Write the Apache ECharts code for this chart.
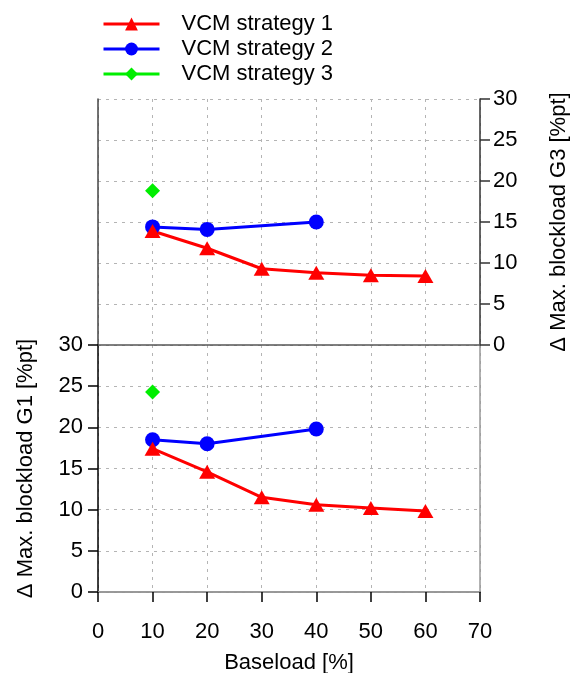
<!DOCTYPE html>
<html>
<head>
<meta charset="utf-8">
<script src="https://cdn.jsdelivr.net/npm/echarts@6/dist/echarts.min.js"></script>
<style>
  html, body { margin: 0; padding: 0; background: #fff; }
  #chart { width: 570px; height: 673px; }
</style>
</head>
<body>
<div id="chart"></div>
<script>
// Baseload levels [%]
const baseload = [10, 20, 30, 40, 50, 60];

// Δ Max. blockload G3 [%pt] (upper panel)
const g3Strategy1 = [13.9, 11.8, 9.3, 8.8, 8.5, 8.4];
const g3Strategy2 = [14.4, 14.1, null, 15.0];
const g3Strategy3 = [18.8];

// Δ Max. blockload G1 [%pt] (lower panel)
const g1Strategy1 = [17.4, 14.6, 11.5, 10.6, 10.2, 9.85];
const g1Strategy2 = [18.5, 18.0, null, 19.8];
const g1Strategy3 = [24.3];

const seriesNames = ['VCM strategy 1', 'VCM strategy 2', 'VCM strategy 3'];
const yTicks = [0, 5, 10, 15, 20, 25, 30];
const xTicks = [0, 10, 20, 30, 40, 50, 60, 70];

const FONT = 'Liberation Sans, Arial, sans-serif';
const FS = 22;

function pairs(values) {
  const out = [];
  values.forEach((v, i) => { if (v !== null && v !== undefined) out.push([baseload[i], v]); });
  return out;
}

const gridDash = { show: true, lineStyle: { color: '#b4b4b4', type: [3, 5], width: 1 } };

const xBase = {
  type: 'value', min: xTicks[0], max: xTicks[xTicks.length - 1], interval: 10
};
const yBase = {
  type: 'value', min: yTicks[0], max: yTicks[yTicks.length - 1], interval: 5
};

function strategySeries(idx, values, xi, yi) {
  const styles = [
    { color: '#ff0000', symbol: 'triangle', size: [16, 14], line: 3 },
    { color: '#0000ff', symbol: 'circle', size: 15, line: 3 },
    { color: '#00ee00', symbol: 'diamond', size: 15, line: 3 }
  ][idx];
  return {
    name: seriesNames[idx], type: 'line', xAxisIndex: xi, yAxisIndex: yi,
    data: pairs(values), connectNulls: true,
    symbol: styles.symbol, symbolSize: styles.size, showSymbol: true,
    itemStyle: { color: styles.color },
    lineStyle: { color: styles.color, width: styles.line },
    emphasis: { disabled: true }, animation: false
  };
}

const chart = echarts.init(document.getElementById('chart'), null, { renderer: 'canvas' });
chart.setOption({
  backgroundColor: '#ffffff',
  animation: false,
  textStyle: { fontFamily: FONT },
  legend: {
    data: seriesNames,
    orient: 'vertical', left: 97, top: 8,
    itemWidth: 56, itemHeight: 16, itemGap: 3,
    lineStyle: { width: 3 },
    textStyle: { fontFamily: FONT, fontSize: FS, color: '#000', padding: [0, 0, 0, 17] },
    selectedMode: false
  },
  grid: [
    { left: 98, top: 99, width: 382, height: 246, containLabel: false, outerBoundsMode: 'none' },
    { left: 98, top: 345, width: 382, height: 247, containLabel: false, outerBoundsMode: 'none' }
  ],
  xAxis: [
    // upper panel: grid only
    Object.assign({}, xBase, {
      gridIndex: 0, position: 'bottom',
      axisLine: { show: false }, axisTick: { show: false }, axisLabel: { show: false },
      splitLine: gridDash
    }),
    // upper panel: top frame
    Object.assign({}, xBase, {
      gridIndex: 0, position: 'top',
      axisLine: { show: true, lineStyle: { color: '#555', width: 1.5 } },
      axisTick: { show: false }, axisLabel: { show: false }, splitLine: { show: false }
    }),
    // lower panel: Baseload axis
    Object.assign({}, xBase, {
      gridIndex: 1, position: 'bottom',
      name: 'Baseload [%]', nameLocation: 'middle', nameGap: 60,
      nameTextStyle: { fontFamily: FONT, fontSize: FS, color: '#000' },
      axisLine: { show: true, onZero: false, lineStyle: { color: '#000', width: 1.5 } },
      axisTick: { show: true, inside: false, length: 10, lineStyle: { color: '#000', width: 1.5 } },
      axisLabel: { show: true, margin: 29, fontFamily: FONT, fontSize: FS, color: '#000' },
      splitLine: gridDash
    }),
    // lower panel: top frame
    Object.assign({}, xBase, {
      gridIndex: 1, position: 'top',
      axisLine: { show: true, lineStyle: { color: '#b8b8b8', width: 1.5 } },
      axisTick: { show: false }, axisLabel: { show: false }, splitLine: { show: false }
    })
  ],
  yAxis: [
    // upper panel: G3 axis on the right
    Object.assign({}, yBase, {
      gridIndex: 0, position: 'right',
      name: 'Δ Max. blockload G3 [%pt]', nameLocation: 'middle', nameRotate: 90, nameGap: 68,
      nameTextStyle: { fontFamily: FONT, fontSize: FS, color: '#000' },
      axisLine: { show: true, onZero: false, lineStyle: { color: '#333', width: 1.5 } },
      axisTick: { show: true, inside: false, length: 10, lineStyle: { color: '#333', width: 1.5 } },
      axisLabel: { show: true, margin: 13, fontFamily: FONT, fontSize: FS, color: '#000' },
      splitLine: gridDash
    }),
    // upper panel: left frame
    Object.assign({}, yBase, {
      gridIndex: 0, position: 'left',
      axisLine: { show: true, onZero: false, lineStyle: { color: '#444', width: 1.5 } },
      axisTick: { show: false }, axisLabel: { show: false }, splitLine: { show: false }
    }),
    // lower panel: G1 axis on the left
    Object.assign({}, yBase, {
      gridIndex: 1, position: 'left',
      name: 'Δ Max. blockload G1 [%pt]', nameLocation: 'middle', nameRotate: 90, nameGap: 61,
      nameTextStyle: { fontFamily: FONT, fontSize: FS, color: '#000' },
      axisLine: { show: true, onZero: false, lineStyle: { color: '#000', width: 1.5 } },
      axisTick: { show: true, inside: false, length: 10, lineStyle: { color: '#000', width: 1.5 } },
      axisLabel: { show: true, margin: 15, fontFamily: FONT, fontSize: FS, color: '#000' },
      splitLine: gridDash
    }),
    // lower panel: right frame
    Object.assign({}, yBase, {
      gridIndex: 1, position: 'right',
      axisLine: { show: true, onZero: false, lineStyle: { color: '#999', width: 1.5 } },
      axisTick: { show: false }, axisLabel: { show: false }, splitLine: { show: false }
    })
  ],
  series: [
    strategySeries(2, g3Strategy3, 0, 0),
    strategySeries(1, g3Strategy2, 0, 0),
    strategySeries(0, g3Strategy1, 0, 0),
    strategySeries(2, g1Strategy3, 2, 2),
    strategySeries(1, g1Strategy2, 2, 2),
    strategySeries(0, g1Strategy1, 2, 2)
  ]
});
</script>
</body>
</html>
